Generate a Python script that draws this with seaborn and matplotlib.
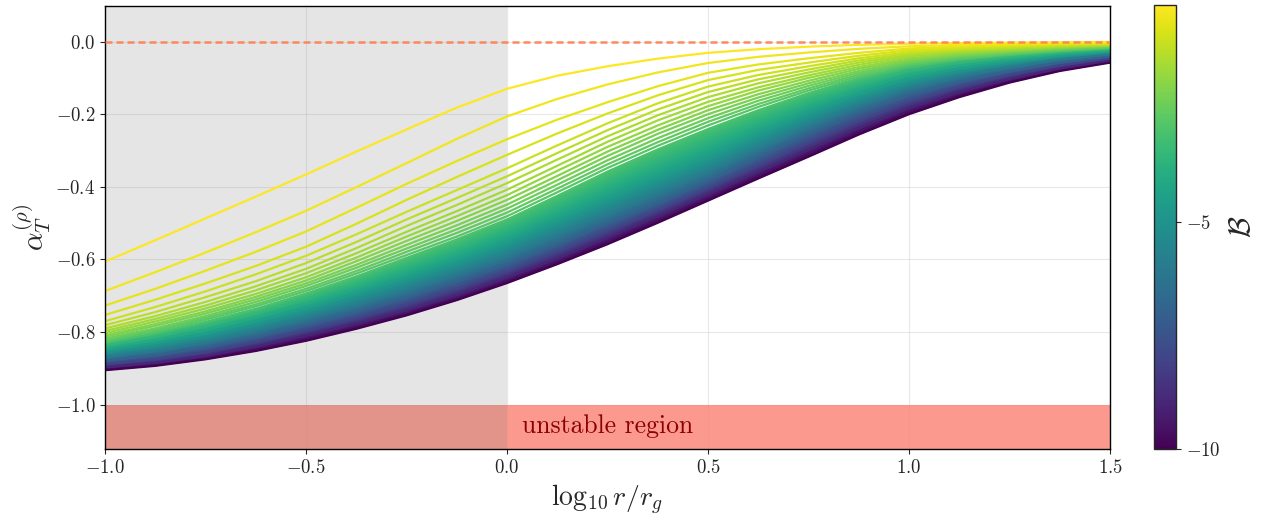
import matplotlib
matplotlib.use("Agg")
import numpy as np
import pandas as pd
import matplotlib.pyplot as plt
import seaborn as sns
from matplotlib.colors import Normalize

# ---- data ----
x_values = [-1.0, -0.875, -0.75, -0.625, -0.5, -0.375, -0.25, -0.125, 0.0,
            0.125, 0.25, 0.375, 0.5, 0.625, 0.75, 0.875, 1.0, 1.125, 1.25,
            1.375, 1.5]
b_values = [-0.2, -0.4, -0.6, -0.8, -1.0, -1.2, -1.4, -1.6, -1.8, -2.0,
            -2.2, -2.4, -2.6, -2.8, -3.0, -3.5, -4.0, -4.5, -5.0,
            -6.0, -7.0, -8.0, -9.0, -10.0]
alpha_curves = [
    [-.606, -.547, -.487, -.427, -.366, -.303, -.242, -.182, -.130, -.094, -.068, -.047, -.031, -.021, -.014, -.009, -.006, -.004, -.003, -.002, -.001],
    [-.687, -.635, -.581, -.525, -.466, -.401, -.335, -.268, -.206, -.158, -.118, -.085, -.059, -.042, -.030, -.020, -.013, -.009, -.006, -.004, -.003],
    [-.727, -.681, -.631, -.579, -.523, -.458, -.392, -.329, -.269, -.215, -.167, -.123, -.086, -.063, -.046, -.031, -.019, -.013, -.009, -.006, -.004],
    [-.753, -.711, -.666, -.618, -.565, -.502, -.436, -.373, -.312, -.253, -.198, -.148, -.106, -.078, -.058, -.039, -.024, -.016, -.012, -.008, -.005],
    [-.770, -.731, -.688, -.641, -.590, -.531, -.469, -.409, -.349, -.286, -.225, -.170, -.124, -.092, -.068, -.046, -.029, -.020, -.014, -.009, -.006],
    [-.781, -.745, -.704, -.660, -.610, -.552, -.490, -.431, -.371, -.307, -.244, -.187, -.139, -.104, -.077, -.052, -.033, -.023, -.017, -.012, -.008],
    [-.790, -.756, -.717, -.674, -.626, -.569, -.508, -.450, -.390, -.325, -.261, -.203, -.153, -.115, -.085, -.058, -.037, -.026, -.019, -.013, -.009],
    [-.797, -.764, -.727, -.685, -.638, -.583, -.524, -.467, -.408, -.342, -.276, -.217, -.166, -.126, -.093, -.064, -.041, -.028, -.021, -.014, -.010],
    [-.803, -.771, -.735, -.695, -.649, -.595, -.537, -.481, -.423, -.356, -.290, -.231, -.178, -.135, -.100, -.070, -.046, -.032, -.024, -.016, -.011],
    [-.809, -.778, -.743, -.703, -.658, -.605, -.549, -.494, -.436, -.370, -.303, -.243, -.189, -.145, -.108, -.075, -.050, -.035, -.026, -.018, -.012],
    [-.813, -.783, -.749, -.710, -.666, -.615, -.560, -.506, -.449, -.382, -.315, -.254, -.200, -.154, -.115, -.081, -.054, -.038, -.028, -.019, -.013],
    [-.818, -.790, -.756, -.717, -.673, -.623, -.570, -.517, -.460, -.394, -.327, -.266, -.211, -.163, -.122, -.086, -.058, -.041, -.030, -.021, -.015],
    [-.822, -.794, -.761, -.724, -.681, -.632, -.579, -.527, -.471, -.405, -.338, -.277, -.221, -.172, -.129, -.091, -.061, -.044, -.033, -.023, -.016],
    [-.825, -.798, -.766, -.729, -.687, -.639, -.588, -.537, -.481, -.415, -.348, -.287, -.231, -.180, -.135, -.096, -.065, -.047, -.035, -.025, -.017],
    [-.829, -.803, -.772, -.736, -.694, -.647, -.596, -.545, -.490, -.425, -.358, -.297, -.241, -.189, -.142, -.101, -.069, -.050, -.037, -.026, -.018],
    [-.837, -.813, -.784, -.749, -.709, -.664, -.615, -.566, -.512, -.449, -.384, -.324, -.267, -.211, -.160, -.116, -.080, -.058, -.043, -.030, -.021],
    [-.844, -.822, -.794, -.760, -.722, -.679, -.633, -.585, -.532, -.471, -.408, -.349, -.291, -.233, -.178, -.130, -.091, -.066, -.049, -.034, -.024],
    [-.851, -.830, -.804, -.771, -.734, -.693, -.648, -.601, -.549, -.490, -.429, -.371, -.313, -.252, -.194, -.144, -.102, -.075, -.055, -.039, -.027],
    [-.857, -.838, -.813, -.781, -.745, -.705, -.662, -.616, -.565, -.507, -.447, -.390, -.332, -.269, -.209, -.156, -.112, -.082, -.060, -.042, -.030],
    [-.869, -.852, -.829, -.799, -.764, -.727, -.686, -.641, -.592, -.536, -.478, -.420, -.361, -.297, -.234, -.178, -.130, -.096, -.071, -.050, -.035],
    [-.879, -.864, -.842, -.814, -.781, -.745, -.706, -.662, -.614, -.560, -.502, -.445, -.385, -.320, -.256, -.198, -.148, -.111, -.082, -.058, -.041],
    [-.888, -.875, -.855, -.828, -.796, -.762, -.724, -.681, -.633, -.579, -.522, -.464, -.404, -.341, -.278, -.219, -.166, -.125, -.092, -.066, -.046],
    [-.897, -.885, -.866, -.840, -.810, -.777, -.740, -.698, -.650, -.597, -.540, -.481, -.421, -.359, -.298, -.238, -.183, -.139, -.103, -.074, -.052],
    [-.905, -.893, -.875, -.852, -.824, -.791, -.754, -.712, -.665, -.613, -.558, -.499, -.438, -.377, -.317, -.256, -.200, -.153, -.113, -.081, -.058],
]
x_ticks = [-1.0, -0.5, 0.0, 0.5, 1.0, 1.5]
y_ticks = [0.0, -0.2, -0.4, -0.6, -0.8, -1.0]
cbar_ticks = [-10, -5]
b_min, b_max = -10.0, -0.2
dense_from = -3.0   # curves at or below this B merge into a continuous band

# ---- style ----
sns.set_style("ticks")
plt.rcParams["font.family"] = "serif"
plt.rcParams["font.serif"] = ["cmr10", "DejaVu Serif"]
plt.rcParams["mathtext.fontset"] = "cm"
plt.rcParams["axes.formatter.use_mathtext"] = True
plt.rcParams["axes.unicode_minus"] = True

fig = plt.figure(figsize=(12.65, 5.18), dpi=100)
ax = fig.add_axes([105 / 1265, 69 / 518, 1005 / 1265, 443 / 518])
cax = fig.add_axes([1154 / 1265, 69 / 518, 22 / 1265, 444 / 518])

norm = Normalize(vmin=b_min, vmax=b_max)
cmap = plt.get_cmap("viridis")

# background regions
ax.axhspan(-1.2, -1.0, color="salmon", alpha=0.8, lw=0, zorder=0.6)
ax.axvspan(-1.0, 0.0, color="gray", alpha=0.2, lw=0, zorder=0.7)
ax.grid(True, color="#d9d9d9", lw=0.8, alpha=0.6, zorder=0.5)
ax.set_axisbelow(True)

# dense band as smooth colour field between read curves
X = np.array([x_values for _ in b_values])
Y = np.array(alpha_curves)
C = np.array([[b] * len(x_values) for b in b_values])
dense = np.array(b_values) <= dense_from
ax.pcolormesh(X[dense], Y[dense], C[dense], cmap=cmap, norm=norm,
              shading="gouraud", zorder=1.5, rasterized=True)

# curves
df = pd.DataFrame(
    [(b, x, a) for b, row in zip(b_values, alpha_curves) for x, a in zip(x_values, row)],
    columns=["B", "x", "alpha"],
)
sns.lineplot(data=df, x="x", y="alpha", hue="B", units="B", estimator=None,
             palette="viridis", hue_norm=norm, legend=False, lw=1.6, ax=ax,
             zorder=2)

ax.axhline(0.0, color="coral", ls=(0, (2.8, 1.6)), lw=1.8, alpha=0.9, zorder=3)
ax.text(0.037, -1.058, "unstable region", color="#8b0000", fontsize=18.5,
        va="center", ha="left", zorder=4)

ax.set_xlim(-1.0, 1.5)
ax.set_ylim(-1.122, 0.098)
ax.set_xticks(x_ticks)
ax.set_yticks(y_ticks)
ax.tick_params(labelsize=13.5)
ax.set_xlabel(r"$\log_{10} r/r_g$", fontsize=20)
ax.set_ylabel(r"$\alpha_T^{(\rho)}$", fontsize=21, labelpad=2)
for s in ax.spines.values():
    s.set_linewidth(1.0)
    s.set_color("black")

sm = plt.cm.ScalarMappable(norm=norm, cmap=cmap)
cb = fig.colorbar(sm, cax=cax, ticks=cbar_ticks)
cb.ax.tick_params(labelsize=13.5)
cb.set_label(r"$\mathcal{B}$", fontsize=22, labelpad=6)
cb.outline.set_linewidth(1.0)

fig.savefig("out.png", dpi=100)
